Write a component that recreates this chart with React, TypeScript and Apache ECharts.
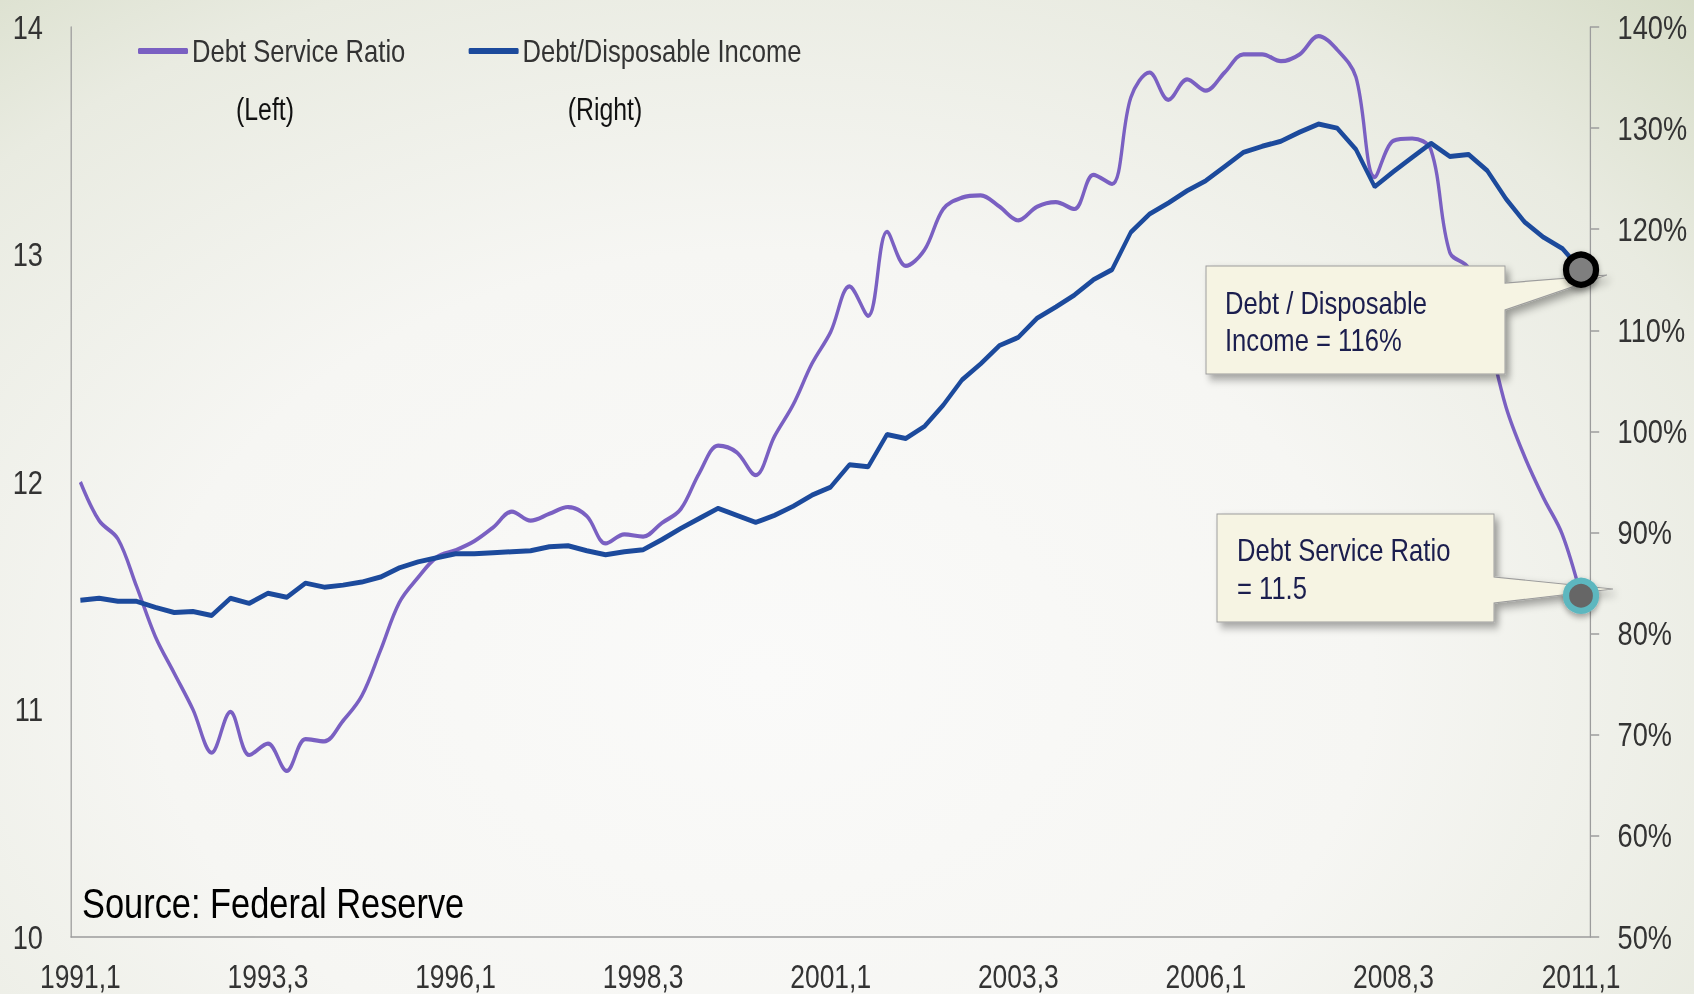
import React, { useEffect, useRef } from 'react';
import * as echarts from 'echarts';

// The reference is a horizontally compressed chart: it is drawn on a wider
// canvas and squeezed by SX so that every glyph looks narrow, like the original.
const PAGE_W = 1694;
const PAGE_H = 994;
const SX = 0.8;
const CHART_W = PAGE_W / SX;
const px = (x: number) => x / SX; // page x -> chart x

const FONT = '"Liberation Sans", Arial, sans-serif';

const firstYear = 1991;
const lastYear = 2011;
const quarters: string[] = [];
for (let y = firstYear; y <= lastYear; y++) {
  for (let q = 1; q <= 4; q++) {
    if (y === lastYear && q > 1) break;
    quarters.push(`${y},${q}`);
  }
}

// Debt Service Ratio (left axis)
const debtServiceRatio = [
  12.00, 11.83, 11.75, 11.54, 11.32, 11.16, 11.00, 10.81, 10.99, 10.80,
  10.85, 10.73, 10.87, 10.86, 10.95, 11.06, 11.26, 11.47, 11.58, 11.67,
  11.70, 11.74, 11.80, 11.87, 11.83, 11.86, 11.89, 11.85, 11.73, 11.77,
  11.76, 11.82, 11.88, 12.04, 12.16, 12.13, 12.03, 12.20, 12.34, 12.52,
  12.66, 12.86, 12.73, 13.10, 12.95, 13.02, 13.20, 13.25, 13.26, 13.21,
  13.15, 13.21, 13.23, 13.20, 13.35, 13.31, 13.69, 13.80, 13.68, 13.77,
  13.72, 13.80, 13.88, 13.88, 13.85, 13.88, 13.96, 13.90, 13.78, 13.34,
  13.50, 13.51, 13.46, 13.01, 12.94, 12.66, 12.33, 12.11, 11.93, 11.77,
  11.50,
];

// Debt / Disposable Income, % (right axis)
const debtToIncome = [
  83.3, 83.5, 83.2, 83.2, 82.6, 82.1, 82.2, 81.8, 83.5, 83.0,
  84.0, 83.6, 85.0, 84.6, 84.8, 85.1, 85.6, 86.5, 87.1, 87.5,
  87.9, 87.9, 88.0, 88.1, 88.2, 88.6, 88.7, 88.2, 87.8, 88.1,
  88.3, 89.3, 90.4, 91.4, 92.4, 91.7, 91.0, 91.7, 92.6, 93.7,
  94.5, 96.7, 96.5, 99.7, 99.3, 100.5, 102.6, 105.1, 106.7, 108.5,
  109.3, 111.2, 112.3, 113.5, 115.0, 116.0, 119.7, 121.5, 122.6, 123.8,
  124.8, 126.2, 127.6, 128.2, 128.7, 129.6, 130.4, 130.0, 127.9, 124.2,
  125.7, 127.1, 128.5, 127.2, 127.4, 125.8, 123.0, 120.7, 119.2, 118.1,
  116.0,
];

const seriesNames = ['Debt Service Ratio', 'Debt/Disposable Income'];
const axisNotes = ['(Left)', '(Right)'];
const sourceText = 'Source: Federal Reserve';
const calloutIncome = ['Debt / Disposable', 'Income = 116%'];
const calloutDsr = ['Debt Service Ratio', '= 11.5'];

const PURPLE = '#7a60c2';
const BLUE = '#1c4a9c';
const AXIS = '#9c9c9c';
const BOX_FILL = '#f6f4e3';
const BOX_TEXT = '#1b1e4e';

export default function App() {
  const ref = useRef<HTMLDivElement>(null);

  useEffect(() => {
    if (!ref.current) return;
    const chart = echarts.init(ref.current, undefined, { renderer: 'svg' });
    const last = quarters.length - 1;

    const calloutStyle = {
      fill: BOX_FILL,
      stroke: AXIS,
      lineWidth: 1.2,
      shadowBlur: 8,
      shadowOffsetX: 5,
      shadowOffsetY: 5,
      shadowColor: 'rgba(0,0,0,0.35)',
    };
    const boxFont = `32px ${FONT}`;
    const poly = (pts: number[][]) => pts.map(([x, y]) => [px(x), y]);

    const markerBase = {
      z: 6,
      symbol: 'circle',
      symbolSize: [30 / SX, 30],
      label: { show: false },
    };

    const option: any = {
      animation: false,
      backgroundColor: 'transparent',
      textStyle: { fontFamily: FONT },
      grid: {
        left: px(71),
        right: CHART_W - px(1590),
        top: 27,
        bottom: 57,
        containLabel: false,
        outerBoundsMode: 'none',
      },
      legend: {
        left: px(134),
        top: 30,
        icon: 'roundRect',
        itemWidth: px(50),
        itemHeight: 6,
        itemGap: 79,
        data: seriesNames,
        textStyle: { fontSize: 32, color: '#333', fontFamily: FONT },
      },
      xAxis: {
        type: 'category',
        data: quarters,
        boundaryGap: true,
        axisLine: { show: true, lineStyle: { color: AXIS, width: 1.6 } },
        axisTick: { show: false },
        axisLabel: {
          interval: 9,
          margin: 23,
          fontSize: 33,
          color: '#333',
          fontFamily: FONT,
        },
        splitLine: { show: false },
      },
      yAxis: [
        {
          type: 'value',
          position: 'left',
          min: 10,
          max: 14,
          interval: 1,
          axisLine: { show: true, lineStyle: { color: AXIS, width: 1.6 } },
          axisTick: { show: false },
          splitLine: { show: false },
          axisLabel: { margin: 35, fontSize: 34, color: '#333', fontFamily: FONT },
        },
        {
          type: 'value',
          position: 'right',
          min: 50,
          max: 140,
          interval: 10,
          axisLine: { show: true, lineStyle: { color: AXIS, width: 1.6 } },
          axisTick: { show: true, length: 11, lineStyle: { color: AXIS, width: 1.5 } },
          splitLine: { show: false },
          axisLabel: {
            margin: 34,
            fontSize: 34,
            color: '#333',
            fontFamily: FONT,
            formatter: '{value}%',
          },
        },
      ],
      series: [
        {
          name: seriesNames[0],
          type: 'line',
          yAxisIndex: 0,
          data: debtServiceRatio,
          smooth: 0.35,
          symbol: 'none',
          lineStyle: { color: PURPLE, width: 4.2 },
          itemStyle: { color: PURPLE },
          z: 2,
          markPoint: {
            ...markerBase,
            itemStyle: {
              color: '#666666',
              borderColor: '#5db7bf',
              borderWidth: 7,
              shadowBlur: 6,
              shadowOffsetY: 3,
              shadowColor: 'rgba(0,0,0,0.35)',
            },
            data: [{ coord: [quarters[last], debtServiceRatio[last]] }],
          },
        },
        {
          name: seriesNames[1],
          type: 'line',
          yAxisIndex: 1,
          data: debtToIncome,
          smooth: false,
          symbol: 'none',
          lineStyle: { color: BLUE, width: 5 },
          itemStyle: { color: BLUE },
          z: 2,
          markPoint: {
            ...markerBase,
            itemStyle: {
              color: '#7f7f7f',
              borderColor: '#000000',
              borderWidth: 7,
              shadowBlur: 6,
              shadowOffsetY: 3,
              shadowColor: 'rgba(0,0,0,0.35)',
            },
            data: [{ coord: [quarters[last], debtToIncome[last]] }],
          },
        },
      ],
      graphic: [
        {
          type: 'text',
          z: 3,
          style: {
            x: px(265), y: 110, text: axisNotes[0], textAlign: 'center', textVerticalAlign: 'middle',
            font: `31px ${FONT}`, fill: '#111',
          },
        },
        {
          type: 'text',
          z: 3,
          style: {
            x: px(605), y: 110, text: axisNotes[1], textAlign: 'center', textVerticalAlign: 'middle',
            font: `31px ${FONT}`, fill: '#111',
          },
        },
        {
          type: 'text',
          z: 3,
          style: {
            x: px(82), y: 903, text: sourceText, textAlign: 'left', textVerticalAlign: 'middle',
            font: `43px ${FONT}`, fill: '#000',
          },
        },
        {
          type: 'polygon',
          z: 4,
          shape: {
            points: poly([[1206, 266], [1505, 266], [1505, 283], [1607, 275], [1505, 310], [1505, 374], [1206, 374]]),
          },
          style: calloutStyle,
        },
        {
          type: 'text',
          z: 4,
          style: { x: px(1225), y: 303, text: calloutIncome[0], textVerticalAlign: 'middle', font: boxFont, fill: BOX_TEXT },
        },
        {
          type: 'text',
          z: 4,
          style: { x: px(1225), y: 340, text: calloutIncome[1], textVerticalAlign: 'middle', font: boxFont, fill: BOX_TEXT },
        },
        {
          type: 'polygon',
          z: 4,
          shape: {
            points: poly([[1217, 514], [1494, 514], [1494, 577], [1613, 589], [1494, 603], [1494, 622], [1217, 622]]),
          },
          style: calloutStyle,
        },
        {
          type: 'text',
          z: 4,
          style: { x: px(1237), y: 550, text: calloutDsr[0], textVerticalAlign: 'middle', font: boxFont, fill: BOX_TEXT },
        },
        {
          type: 'text',
          z: 4,
          style: { x: px(1237), y: 588, text: calloutDsr[1], textVerticalAlign: 'middle', font: boxFont, fill: BOX_TEXT },
        },
      ],
    };

    chart.setOption(option);
    return () => chart.dispose();
  }, []);

  return (
    <div
      style={{
        position: 'fixed',
        left: 0,
        top: 0,
        width: PAGE_W,
        height: PAGE_H,
        overflow: 'hidden',
        background:
          'radial-gradient(ellipse 80% 95% at 45% 68%, #fafaf9 0%, #f6f6f3 45%, #e9ebe1 78%, #d6dcc7 100%)',
      }}
    >
      <div
        ref={ref}
        style={{
          width: CHART_W,
          height: PAGE_H,
          transform: `scaleX(${SX})`,
          transformOrigin: '0 0',
        }}
      />
    </div>
  );
}
